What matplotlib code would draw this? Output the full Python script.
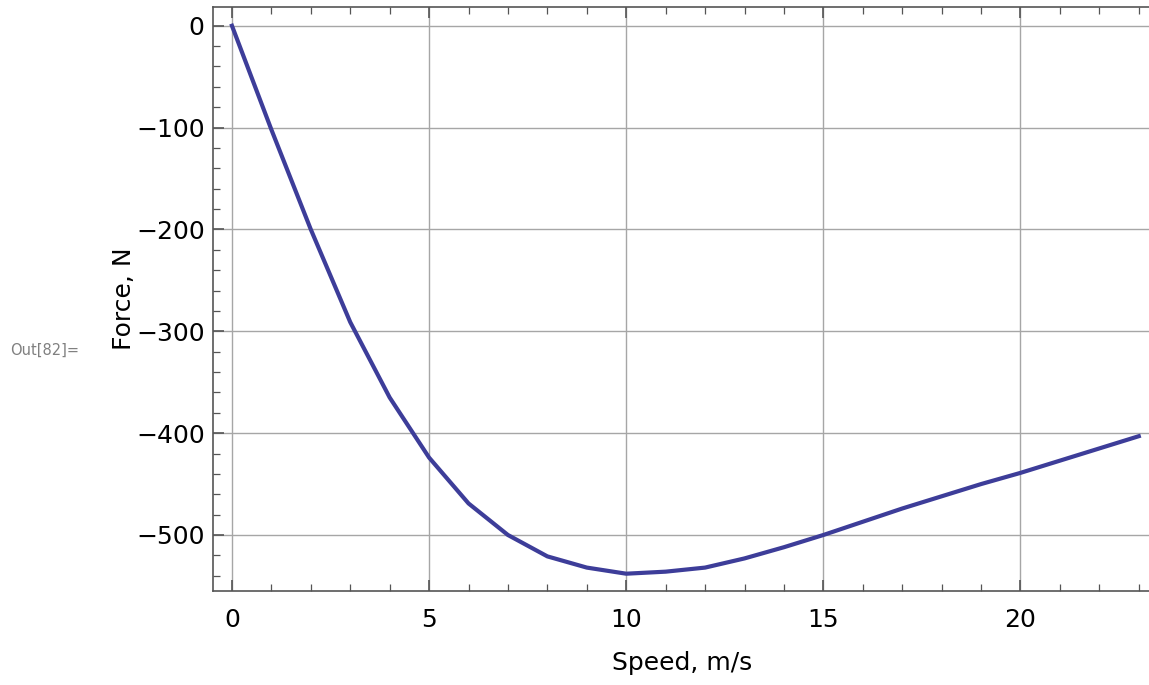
import matplotlib.pyplot as plt
from matplotlib.ticker import MultipleLocator

# speed (m/s) and force (N)
speed = [0, 1, 2, 3, 4, 5, 6, 7, 8, 9, 10, 11, 12, 13, 14, 15, 16, 17, 18, 19, 20, 21, 22, 23]
force = [0, -102, -200, -291, -365, -424, -469, -500, -521, -532, -538, -536, -532, -523, -512,
         -500, -487, -474, -462, -450, -439, -427, -415, -403]

xticks = [0, 5, 10, 15, 20]
yticks = [0, -100, -200, -300, -400, -500]

plt.rcParams['font.family'] = ['DejaVu Sans']

fig = plt.figure(figsize=(11.49, 6.85), dpi=100)
ax = fig.add_axes([0.1854, 0.1372, 0.8160, 0.8526])

ax.plot(speed, force, color='#3d3d99', lw=3.0, solid_joinstyle='miter', zorder=3)

ax.set_xlim(-0.48, 23.30)
ax.set_ylim(-555, 18.4)
ax.set_xticks(xticks)
ax.set_yticks(yticks)
ax.set_yticklabels(['0' if v == 0 else '\u2212' + str(-v) for v in yticks])
ax.xaxis.set_minor_locator(MultipleLocator(1))
ax.yaxis.set_minor_locator(MultipleLocator(20))

ax.grid(True, which='major', color='#a6a6a6', lw=1.0, zorder=1)
for s in ax.spines.values():
    s.set_color('#555555')
    s.set_linewidth(1.2)
# the frame's right side falls just past the picture edge
ax.spines['right'].set_visible(False)

ax.tick_params(which='both', direction='in', top=True, right=False, colors='#555555',
               labelcolor='black', labelsize=18)
ax.tick_params(which='major', length=8, width=1.2)
ax.tick_params(which='minor', length=5, width=0.9)
ax.tick_params(axis='x', which='major', pad=12)
ax.tick_params(axis='y', which='major', pad=6)

ax.set_xlabel('Speed, m/s', fontsize=18, labelpad=14)
ax.set_ylabel('Force, N', fontsize=18, labelpad=0)

fig.text(0.009, 0.489, 'Out[82]=', fontsize=10.5, color='#808080', va='center', ha='left')

fig.savefig('out.png', dpi=100)
